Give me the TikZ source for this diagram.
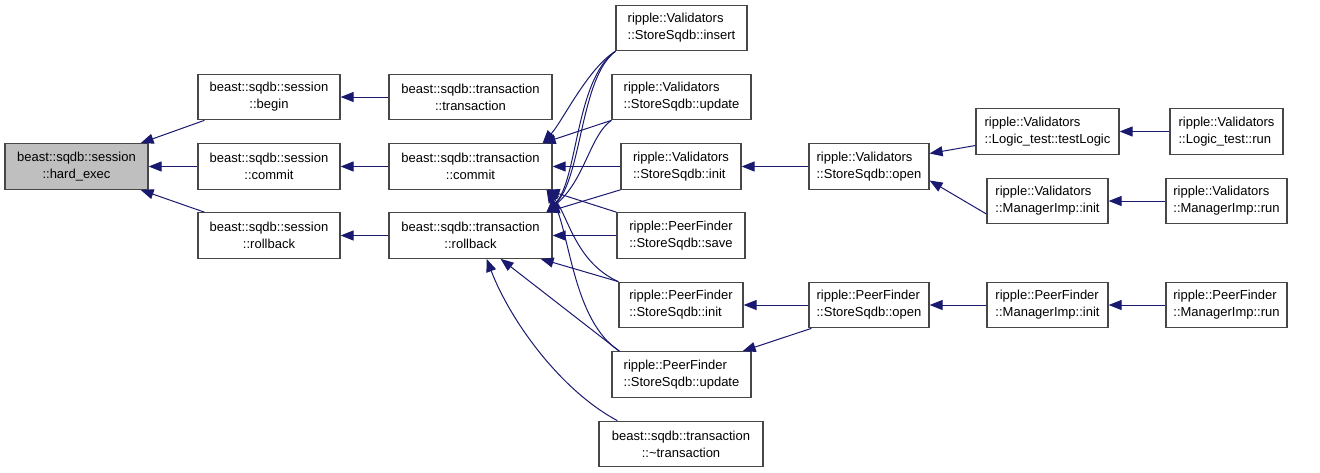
\documentclass[tikz,border=0pt]{standalone}
\usepackage{fontspec}
\setmainfont{Liberation Sans}
\usetikzlibrary{arrows.meta}
\definecolor{navyc}{HTML}{191970}
\definecolor{hardfill}{HTML}{BFBFBF}
\begin{document}
\begin{tikzpicture}[x=1pt,y=-1pt,
  fn/.style={draw=black!72, line width=1.2pt, minimum height=45.5pt, inner sep=0pt,
    font=\fontsize{13}{17}\selectfont, text=black, align=center},
  fl/.style={fn, align=left},
  callarrow/.style={draw=navyc, line width=1pt, {Triangle[length=13pt,width=10pt]}-}]
\useasboundingbox[fill=white] (0,0) rectangle (1320,472);
% nodes
\node[fn, fill=hardfill, minimum width=143pt] (hard) at (76.5,166.5) {beast::sqdb::session\\::hard\_exec};
\node[fn, minimum width=142pt] (sbegin) at (269,97) {beast::sqdb::session\\::begin};
\node[fn, minimum width=142pt] (scommit) at (269,166.5) {beast::sqdb::session\\::commit};
\node[fn, minimum width=142pt] (srollback) at (269,235.5) {beast::sqdb::session\\::rollback};
\node[fn, minimum width=163pt] (ttrans) at (470.5,97) {beast::sqdb::transaction\\::transaction};
\node[fn, minimum width=163pt] (tcommit) at (470.5,166.5) {beast::sqdb::transaction\\::commit};
\node[fn, minimum width=163pt] (trollback) at (470.5,235.5) {beast::sqdb::transaction\\::rollback};
\node[fl, minimum width=131pt] (vinsert) at (681.5,28) {ripple::Validators\\::StoreSqdb::insert};
\node[fl, minimum width=139pt] (vupdate) at (681.5,97) {ripple::Validators\\::StoreSqdb::update};
\node[fl, minimum width=120pt] (vinit) at (681,166.5) {ripple::Validators\\::StoreSqdb::init};
\node[fl, minimum width=128pt] (psave) at (681,235.5) {ripple::PeerFinder\\::StoreSqdb::save};
\node[fl, minimum width=124pt] (pinit) at (681,305) {ripple::PeerFinder\\::StoreSqdb::init};
\node[fl, minimum width=139pt] (pupdate) at (681.5,374.5) {ripple::PeerFinder\\::StoreSqdb::update};
\node[fn, minimum width=164pt] (tdtor) at (681,444) {beast::sqdb::transaction\\::\textasciitilde transaction};
\node[fl, minimum width=120pt] (vopen) at (869,166.5) {ripple::Validators\\::StoreSqdb::open};
\node[fl, minimum width=143pt] (vtest) at (1047.5,131.5) {ripple::Validators\\::Logic\_test::testLogic};
\node[fl, minimum width=121pt] (vminit) at (1047.5,201) {ripple::Validators\\::ManagerImp::init};
\node[fl, minimum width=113pt] (vtrun) at (1226.5,131.5) {ripple::Validators\\::Logic\_test::run};
\node[fl, minimum width=121pt] (vmrun) at (1226.5,201) {ripple::Validators\\::ManagerImp::run};
\node[fl, minimum width=120pt] (popen) at (869,305) {ripple::PeerFinder\\::StoreSqdb::open};
\node[fl, minimum width=121pt] (pminit) at (1047.5,305) {ripple::PeerFinder\\::ManagerImp::init};
\node[fl, minimum width=121pt] (pmrun) at (1226.5,305) {ripple::PeerFinder\\::ManagerImp::run};
% left edges
\draw[callarrow] ([xshift=-8]hard.north east) -- ([xshift=7]sbegin.south west);
\draw[callarrow] (hard.east) -- (scommit.west);
\draw[callarrow] ([xshift=-8]hard.south east) -- ([xshift=7]srollback.north west);
\draw[callarrow] (sbegin.east) -- (ttrans.west);
\draw[callarrow] (scommit.east) -- (tcommit.west);
\draw[callarrow] (srollback.east) -- (trollback.west);
% into transaction::commit
\draw[callarrow] ([xshift=-10]tcommit.north east) .. controls (562,122) and (588,68) .. (vinsert.south west);
\draw[callarrow] ([xshift=-10]tcommit.north east) -- (vupdate.south west);
\draw[callarrow] (tcommit.east) -- (vinit.west);
\draw[callarrow] ([xshift=-6]tcommit.south east) -- (psave.north west);
\draw[callarrow] ([xshift=-6]tcommit.south east) .. controls (568,215) and (575,262) .. (pinit.north west);
\draw[callarrow] ([xshift=-6]tcommit.south east) .. controls (570,230) and (572,320) .. ([xshift=8]pupdate.north west);
% into transaction::rollback
\draw[callarrow] ([xshift=-6]trollback.north east) .. controls (578,180) and (575,80) .. (vinsert.south west);
\draw[callarrow] ([xshift=-6]trollback.north east) .. controls (582,178) and (580,78) .. (vinsert.south west);
\draw[callarrow] ([xshift=-6]trollback.north east) .. controls (585,180) and (590,135) .. (vupdate.south west);
\draw[callarrow] ([xshift=-6]trollback.north east) -- (vinit.south west);
\draw[callarrow] (trollback.east) -- (psave.west);
\draw[callarrow] ([xshift=-12]trollback.south east) -- (pinit.north west);
\draw[callarrow] ([xshift=-52]trollback.south east) -- ([xshift=8]pupdate.north west);
\draw[callarrow] ([xshift=-66]trollback.south east) .. controls (510,320) and (560,390) .. ([xshift=19]tdtor.north west);
% right part
\draw[callarrow] (vinit.east) -- (vopen.west);
\draw[callarrow] ([yshift=13]vopen.east) -- ([yshift=-14]vtest.west);
\draw[callarrow] ([yshift=-14]vopen.east) -- ([yshift=-13]vminit.west);
\draw[callarrow] (vtest.east) -- (vtrun.west);
\draw[callarrow] (vminit.east) -- (vmrun.west);
\draw[callarrow] (pinit.east) -- (popen.west);
\draw[callarrow] ([xshift=-9]pupdate.north east) -- ([xshift=3]popen.south west);
\draw[callarrow] (popen.east) -- (pminit.west);
\draw[callarrow] (pminit.east) -- (pmrun.west);
\end{tikzpicture}
\end{document}
